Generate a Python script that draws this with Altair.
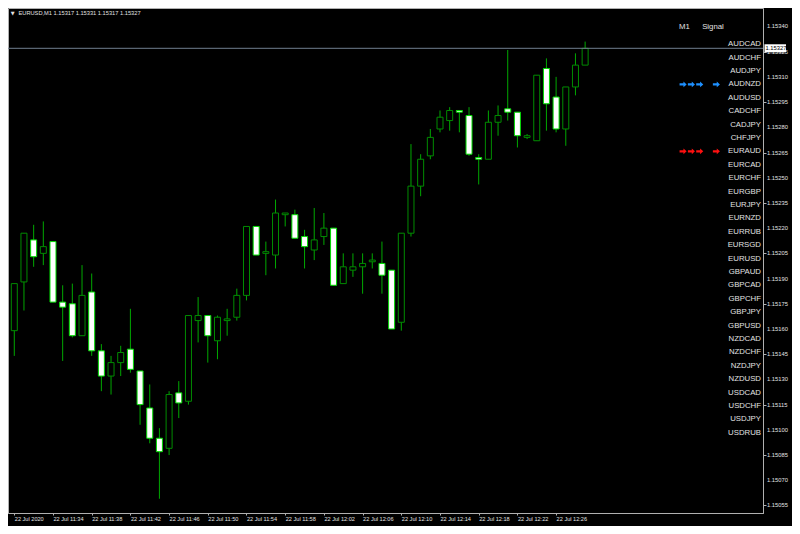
import altair as alt
import pandas as pd

# ---------------- data ----------------
opens = [1.15159, 1.15188, 1.15213, 1.15205, 1.15212, 1.15176, 1.15175, 1.15156, 1.15182, 1.15147,
         1.15132, 1.15140, 1.15148, 1.15135, 1.15113, 1.15095, 1.15089, 1.15122, 1.15117, 1.15165,
         1.15168, 1.15153, 1.15165, 1.15167, 1.15180, 1.15221, 1.15205, 1.15204, 1.15228, 1.15228,
         1.15215, 1.15207, 1.15215, 1.15220, 1.15187, 1.15195, 1.15197, 1.15200, 1.15199, 1.15195,
         1.15164, 1.15217, 1.15245, 1.15263, 1.15279, 1.15284, 1.15290, 1.15287, 1.15262, 1.15261,
         1.15283, 1.15291, 1.15289, 1.15274, 1.15272, 1.15315, 1.15298, 1.15279, 1.15304, 1.15317]
highs = [1.15187, 1.15217, 1.15222, 1.15224, 1.15212, 1.15186, 1.15187, 1.15198, 1.15193, 1.15151,
         1.15144, 1.15150, 1.15172, 1.15135, 1.15127, 1.15101, 1.15123, 1.15129, 1.15168, 1.15179,
         1.15168, 1.15168, 1.15172, 1.15184, 1.15221, 1.15221, 1.15212, 1.15237, 1.15229, 1.15231,
         1.15219, 1.15232, 1.15229, 1.15220, 1.15205, 1.15205, 1.15205, 1.15205, 1.15212, 1.15195,
         1.15217, 1.15270, 1.15264, 1.15279, 1.15290, 1.15292, 1.15290, 1.15292, 1.15264, 1.15290,
         1.15293, 1.15326, 1.15289, 1.15276, 1.15311, 1.15321, 1.15310, 1.15304, 1.15324, 1.15331]
lows = [1.15144, 1.15171, 1.15197, 1.15198, 1.15176, 1.15141, 1.15155, 1.15156, 1.15144, 1.15123,
        1.15121, 1.15132, 1.15134, 1.15103, 1.15092, 1.15059, 1.15085, 1.15107, 1.15115, 1.15152,
        1.15140, 1.15142, 1.15156, 1.15165, 1.15177, 1.15204, 1.15192, 1.15196, 1.15221, 1.15214,
        1.15196, 1.15201, 1.15210, 1.15186, 1.15187, 1.15191, 1.15181, 1.15196, 1.15181, 1.15160,
        1.15159, 1.15215, 1.15239, 1.15261, 1.15277, 1.15278, 1.15277, 1.15263, 1.15246, 1.15261,
        1.15275, 1.15284, 1.15268, 1.15273, 1.15272, 1.15278, 1.15277, 1.15269, 1.15299, 1.15317]
closes = [1.15187, 1.15217, 1.15203, 1.15209, 1.15176, 1.15173, 1.15156, 1.15180, 1.15147, 1.15132,
          1.15140, 1.15146, 1.15136, 1.15115, 1.15095, 1.15087, 1.15121, 1.15116, 1.15168, 1.15168,
          1.15156, 1.15167, 1.15166, 1.15180, 1.15221, 1.15204, 1.15206, 1.15229, 1.15229, 1.15214,
          1.15209, 1.15213, 1.15220, 1.15186, 1.15197, 1.15197, 1.15199, 1.15201, 1.15192, 1.15160,
          1.15217, 1.15245, 1.15261, 1.15274, 1.15286, 1.15290, 1.15289, 1.15264, 1.15261, 1.15283,
          1.15287, 1.15289, 1.15275, 1.15275, 1.15311, 1.15294, 1.15279, 1.15304, 1.15317, 1.15327]
# one candle per minute starting 22 Jul 2020 11:30
times = [f"2020-07-22T{11 + (30 + i) // 60:02d}:{(30 + i) % 60:02d}:00Z" for i in range(len(opens))]

symbols = ["AUDCAD", "AUDCHF", "AUDJPY", "AUDNZD", "AUDUSD", "CADCHF", "CADJPY", "CHFJPY",
           "EURAUD", "EURCAD", "EURCHF", "EURGBP", "EURJPY", "EURNZD", "EURRUB", "EURSGD",
           "EURUSD", "GBPAUD", "GBPCAD", "GBPCHF", "GBPJPY", "GBPUSD", "NZDCAD", "NZDCHF",
           "NZDJPY", "NZDUSD", "USDCAD", "USDCHF", "USDJPY", "USDRUB"]
signal_symbols = ["AUDNZD", "EURAUD"]
signal_dirs = ["buy", "sell"]
signal_slots = [0, 1, 2, 4]          # three M1 arrows, then the Signal arrow
panel_headers = ["M1", "Signal"]

y_ticks = [1.15340, 1.15325, 1.15310, 1.15295, 1.15280, 1.15265, 1.15250, 1.15235, 1.15220, 1.15205,
           1.15190, 1.15175, 1.15160, 1.15145, 1.15130, 1.15115, 1.15100, 1.15085, 1.15070, 1.15055]
x_tick_times = ["11:30", "11:34", "11:38", "11:42", "11:46", "11:50", "11:54", "11:58",
                "12:02", "12:06", "12:10", "12:14", "12:18", "12:22", "12:26"]
x_tick_labels = ["22 Jul 2020", "22 Jul 11:34", "22 Jul 11:38", "22 Jul 11:42", "22 Jul 11:46",
                 "22 Jul 11:50", "22 Jul 11:54", "22 Jul 11:58", "22 Jul 12:02", "22 Jul 12:06",
                 "22 Jul 12:10", "22 Jul 12:14", "22 Jul 12:18", "22 Jul 12:22", "22 Jul 12:26"]

# ---------------- styling ----------------
W, H = 755, 505
FONT = "Liberation Sans"
WICK = "#00a800"
BULL_STROKE = "#008c00"
BEAR_STROKE = "#00dc00"
AXIS_GRAY = "#b0b0b0"
TEXT_GRAY = "#e2e2e2"

candles = pd.DataFrame({"t": times, "open": opens, "high": highs, "low": lows, "close": closes})
last = pd.DataFrame({"price": [closes[-1]]})
ytick_df = pd.DataFrame({"v": y_ticks})


def dt(h, m, s=0):
    return alt.DateTime(year=2020, month=7, date=22, hours=h, minutes=m, seconds=s, utc=True)


label_expr = "''"
for t, lab in reversed(list(zip(x_tick_times, x_tick_labels))):
    label_expr = f"utcFormat(datum.value, '%H:%M') == '{t}' ? '{lab}' : ({label_expr})"

x_scale = alt.Scale(type="utc", domain=[dt(11, 29, 52), dt(12, 46, 52)])
y_scale = alt.Scale(domain=[1.1505052, 1.1535098], nice=False, zero=False)

x_axis = alt.Axis(values=[dt(int(t[:2]), int(t[3:])) for t in x_tick_times], labelExpr=label_expr,
                  labelAlign="left", labelBaseline="top", labelFontSize=5.6, labelFont=FONT,
                  labelColor=TEXT_GRAY, labelPadding=1, labelOverlap=False, labelFlush=False,
                  labelBound=False, tickSize=2, tickColor=AXIS_GRAY, domainColor=AXIS_GRAY,
                  grid=False, title=None)
# tick marks and axis line from the axis; labels are drawn by a text layer on the same scale
y_axis = alt.Axis(orient="right", values=y_ticks, labels=False, tickSize=3, tickColor=AXIS_GRAY,
                  domainColor=AXIS_GRAY, grid=False, title=None)

wicks = alt.Chart(candles).mark_rule(color=WICK, strokeWidth=1).encode(
    x=alt.X("t:T", scale=x_scale, axis=x_axis),
    y=alt.Y("low:Q", scale=y_scale, axis=y_axis),
    y2="high:Q",
)

is_bull = alt.datum.close >= alt.datum.open
bodies = alt.Chart(candles).mark_bar(size=6, strokeWidth=1).encode(
    x=alt.X("t:T", scale=x_scale, axis=x_axis),
    y=alt.Y("open:Q", scale=y_scale, axis=y_axis),
    y2="close:Q",
    fill=alt.condition(is_bull, alt.value("black"), alt.value("white")),
    stroke=alt.condition(is_bull, alt.value(BULL_STROKE), alt.value(BEAR_STROKE)),
)

price_line = alt.Chart(last).mark_rule(color="#707f8f", strokeWidth=1).encode(
    y=alt.Y("price:Q", scale=y_scale, axis=y_axis))

ytick_labels = alt.Chart(ytick_df).mark_text(
    align="left", baseline="middle", fontSize=5.8, font=FONT, color=TEXT_GRAY, clip=False
).encode(x=alt.value(W + 4), y=alt.Y("v:Q", scale=y_scale, axis=y_axis),
         text=alt.Text("v:Q", format=".5f"))

price_box = alt.Chart(last).transform_calculate(
    hi="datum.price + 0.000024", lo="datum.price - 0.000024"
).mark_rect(color="white", clip=False).encode(
    x=alt.value(W + 1.5), x2=alt.value(W + 23), y="hi:Q", y2="lo:Q"
)
price_text = alt.Chart(last).mark_text(
    align="left", baseline="middle", fontSize=5.8, font=FONT, color="black", clip=False
).encode(x=alt.value(W + 2.5), y="price:Q", text=alt.Text("price:Q", format=".5f"))

candle_layer = alt.layer(wicks, bodies, price_line, ytick_labels, price_box, price_text)

# ---------------- signal panel ----------------
sym_df = pd.DataFrame({"symbol": symbols, "row": list(range(len(symbols)))})
arrow_rows = []
for s, d in zip(signal_symbols, signal_dirs):
    for slot in signal_slots:
        arrow_rows.append({"symbol": s, "row": symbols.index(s), "slot": slot, "dir": d})
arrow_df = pd.DataFrame(arrow_rows)

row_scale = alt.Scale(domain=[0, len(symbols) - 1], range=[36.2, 424.7])
slot_scale = alt.Scale(domain=[0, 4], range=[675.1, 708.4])

sym_text = alt.Chart(sym_df).mark_text(
    align="right", baseline="middle", fontSize=7.8, font=FONT, color=TEXT_GRAY
).encode(x=alt.value(753), y=alt.Y("row:Q", scale=row_scale, axis=None), text="symbol:N")

ARROW = "M-1,-0.3L0.1,-0.3L0.1,-0.8L1,0L0.1,0.8L0.1,0.3L-1,0.3Z"
arrows = alt.Chart(arrow_df).mark_point(shape=ARROW, filled=True, size=50, strokeWidth=0, opacity=1).encode(
    x=alt.X("slot:Q", scale=slot_scale, axis=None),
    y=alt.Y("row:Q", scale=row_scale, axis=None),
    color=alt.Color("dir:N", scale=alt.Scale(domain=["buy", "sell"], range=["#1e90ff", "#ff1010"]),
                    legend=None),
)

hdr_df = pd.DataFrame({"label": panel_headers})
m1_text = alt.Chart(hdr_df).transform_filter(alt.datum.label == "M1").mark_text(
    align="center", baseline="middle", fontSize=7.8, font=FONT, color=TEXT_GRAY
).encode(x=alt.value(676.5), y=alt.value(18.5), text="label:N")
sig_text = alt.Chart(hdr_df).transform_filter(alt.datum.label == "Signal").mark_text(
    align="center", baseline="middle", fontSize=7.8, font=FONT, color=TEXT_GRAY
).encode(x=alt.value(705), y=alt.value(18.5), text="label:N")

title_df = pd.DataFrame({
    "label": [f"EURUSD,M1  {opens[-1]:.5f} {highs[-1]:.5f} {lows[-1]:.5f} {closes[-1]:.5f}"],
    "marker": ["\u25bc"],
})
title_marker = alt.Chart(title_df).mark_text(
    align="center", baseline="middle", fontSize=5, font="DejaVu Sans", color=TEXT_GRAY
).encode(x=alt.value(4.6), y=alt.value(4.8), text="marker:N")
title_text = alt.Chart(title_df).mark_text(
    align="left", baseline="middle", fontSize=5.7, font=FONT, color=TEXT_GRAY
).encode(x=alt.value(10.5), y=alt.value(5.2), text="label:N")

panel_layer = alt.layer(sym_text, arrows, m1_text, sig_text, title_marker, title_text)

chart = alt.layer(candle_layer, panel_layer).resolve_scale(
    x="independent", y="independent"
).properties(
    width=W, height=H,
    autosize=alt.AutoSizeParams(type="none"),
    padding={"left": 0, "top": 0, "right": 29, "bottom": 13},
    background="black",
).configure_view(stroke=AXIS_GRAY, strokeWidth=1)

chart.save("out.html", embed_options={"renderer": "svg", "actions": False})
